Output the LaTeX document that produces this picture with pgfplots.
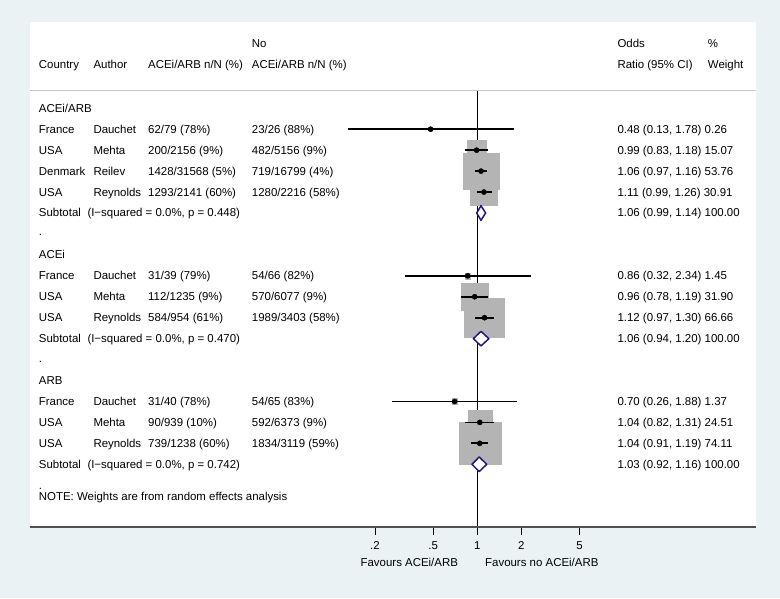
\documentclass[border=0pt]{standalone}
\usepackage{fontspec}
\setmainfont{Liberation Sans}
\usepackage{pgfplots}
\usepackage{pgfplotstable}
\pgfplotsset{compat=1.18}

\definecolor{bgcol}{RGB}{234,242,243}
\definecolor{sqgray}{RGB}{180,180,180}
\definecolor{dmblue}{RGB}{26,26,128}
\definecolor{axgray}{RGB}{80,80,80}
\definecolor{sepgray}{RGB}{200,200,200}

\newcommand{\fs}{\fontsize{11.45bp}{13bp}\selectfont}

% one row per study: odds ratio, 95% CI, row height (bp from bottom), weight
\pgfplotstableread{
or   lo   hi   y      w
0.48 0.13 1.78 468.76 0.26
0.99 0.83 1.18 447.82 15.07
1.06 0.97 1.16 426.88 53.76
1.11 0.99 1.26 405.94 30.91
0.86 0.32 2.34 322.18 1.45
0.96 0.78 1.19 301.24 31.90
1.12 0.97 1.30 280.30 66.66
0.70 0.26 1.88 196.54 1.37
1.04 0.82 1.31 175.60 24.51
1.04 0.91 1.19 154.66 74.11
}\studies

% table row: y, country, author, exposed, unexposed, OR text
\newcommand{\trow}[6]{%
  \node[txt] at (axis cs:38.7,#1) {#2};
  \node[txt] at (axis cs:93.3,#1) {#3};
  \node[txt] at (axis cs:148,#1) {#4};
  \node[txt] at (axis cs:251.7,#1) {#5};
  \node[txt] at (axis cs:617.3,#1) {#6};}
\newcommand{\subrow}[3]{%
  \node[txt] at (axis cs:38.7,#1) {Subtotal};
  \node[txt] at (axis cs:87.3,#1) {#2};
  \node[txt] at (axis cs:617.3,#1) {#3};}

\begin{document}
\begin{tikzpicture}[txt/.style={font=\fs, inner sep=0pt, text height=8bp, text depth=0pt, anchor=west}]

% frame, text columns
\begin{axis}[name=A, scale only axis, width=780bp, height=598bp,
  xmin=0, xmax=780, ymin=0, ymax=598, hide axis, clip=false]
\fill[bgcol] (axis cs:0,0) rectangle (axis cs:780,598);
\fill[white] (axis cs:30,71) rectangle (axis cs:756,576);
\draw[sepgray, line width=1bp] (axis cs:30,507.3) -- (axis cs:756,507.3);

\node[txt] at (axis cs:251.7,554.7) {No};
\node[txt] at (axis cs:617.3,554.7) {Odds};
\node[txt] at (axis cs:707.7,554.7) {\%};
\trow{533}{Country}{Author}{ACEi/ARB n/N (\%)}{ACEi/ARB n/N (\%)}{Ratio (95\% CI)}
\node[txt] at (axis cs:707.7,533) {Weight};

\node[txt] at (axis cs:38.7,489.7) {ACEi/ARB};
\trow{468.76}{France}{Dauchet}{62/79 (78\%)}{23/26 (88\%)}{0.48 (0.13, 1.78) 0.26}
\trow{447.82}{USA}{Mehta}{200/2156 (9\%)}{482/5156 (9\%)}{0.99 (0.83, 1.18) 15.07}
\trow{426.88}{Denmark}{Reilev}{1428/31568 (5\%)}{719/16799 (4\%)}{1.06 (0.97, 1.16) 53.76}
\trow{405.94}{USA}{Reynolds}{1293/2141 (60\%)}{1280/2216 (58\%)}{1.11 (0.99, 1.26) 30.91}
\subrow{385.0}{(I−squared = 0.0\%, p = 0.448)}{1.06 (0.99, 1.14) 100.00}
\node[txt] at (axis cs:38.7,366) {.};

\node[txt] at (axis cs:38.7,343.12) {ACEi};
\trow{322.18}{France}{Dauchet}{31/39 (79\%)}{54/66 (82\%)}{0.86 (0.32, 2.34) 1.45}
\trow{301.24}{USA}{Mehta}{112/1235 (9\%)}{570/6077 (9\%)}{0.96 (0.78, 1.19) 31.90}
\trow{280.30}{USA}{Reynolds}{584/954 (61\%)}{1989/3403 (58\%)}{1.12 (0.97, 1.30) 66.66}
\subrow{259.36}{(I−squared = 0.0\%, p = 0.470)}{1.06 (0.94, 1.20) 100.00}
\node[txt] at (axis cs:38.7,240) {.};

\node[txt] at (axis cs:38.7,217.48) {ARB};
\trow{196.54}{France}{Dauchet}{31/40 (78\%)}{54/65 (83\%)}{0.70 (0.26, 1.88) 1.37}
\trow{175.60}{USA}{Mehta}{90/939 (10\%)}{592/6373 (9\%)}{1.04 (0.82, 1.31) 24.51}
\trow{154.66}{USA}{Reynolds}{739/1238 (60\%)}{1834/3119 (59\%)}{1.04 (0.91, 1.19) 74.11}
\subrow{133.72}{(I−squared = 0.0\%, p = 0.742)}{1.03 (0.92, 1.16) 100.00}
\node[txt] at (axis cs:38.7,113) {.};
\node[txt] at (axis cs:38.7,102) {NOTE: Weights are from random effects analysis};

\node[font=\fs, inner sep=0pt, text height=8bp, text depth=0pt] at (axis cs:409.3,36) {Favours ACEi/ARB};
\node[font=\fs, inner sep=0pt, text height=8bp, text depth=0pt] at (axis cs:541.8,36) {Favours no ACEi/ARB};
\end{axis}

% null line and weight boxes (underneath)
\begin{axis}[at={(30bp,71bp)}, anchor=south west, scale only axis,
  width=726bp, height=505bp,
  xmode=log, xmin=8.806e-4, xmax=80.12, ymin=71, ymax=576, clip=false,
  hide axis]
\addplot[black, line width=1.3bp] coordinates {(1,507.3) (1,71)};
\addplot[scatter, only marks, mark=square*,
  scatter/use mapped color={draw=sqgray, fill=sqgray},
  visualization depends on={2.45*sqrt(\thisrow{w}) \as \msz},
  scatter/@pre marker code/.append style={/tikz/mark size=\msz}]
  table[x=or, y=y] {\studies};
\end{axis}

% confidence intervals, estimates, pooled diamonds and the x axis
\begin{axis}[at={(30bp,71bp)}, anchor=south west, scale only axis,
  width=726bp, height=505bp,
  xmode=log, xmin=8.806e-4, xmax=80.12, ymin=71, ymax=576, clip=false,
  axis x line*=bottom, axis y line=none,
  x axis line style={axgray, line width=1.5bp},
  xtick={0.2,0.5,1,2,5}, xticklabels={.2,.5,1,2,5}, xminorticks=false,
  tick align=outside, major tick length=7.5bp,
  tick style={black, line width=0.8bp},
  x tick label style={font=\fs, yshift=-3.5bp},
  /pgf/number format/assume math mode=true]

\addplot[black, line width=1.7bp] coordinates {(0.13,468.76) (1.78,468.76)};
\addplot[black, line width=1.7bp] coordinates {(0.83,447.82) (1.18,447.82)};
\addplot[black, line width=1.7bp] coordinates {(0.97,426.88) (1.16,426.88)};
\addplot[black, line width=1.7bp] coordinates {(0.99,405.94) (1.26,405.94)};
\addplot[black, line width=1.7bp] coordinates {(0.32,322.18) (2.34,322.18)};
\addplot[black, line width=1.7bp] coordinates {(0.78,301.24) (1.19,301.24)};
\addplot[black, line width=1.7bp] coordinates {(0.97,280.30) (1.30,280.30)};
\addplot[black, line width=1.7bp] coordinates {(0.26,196.54) (1.88,196.54)};
\addplot[black, line width=1.7bp] coordinates {(0.82,175.60) (1.31,175.60)};
\addplot[black, line width=1.7bp] coordinates {(0.91,154.66) (1.19,154.66)};

\addplot[only marks, mark=*, mark size=2.6bp, black] table[x=or, y=y] {\studies};

% pooled estimates
\addplot[dmblue, fill=white, line width=1.5bp, line join=round]
  coordinates {(0.99,385.0) (1.06,392.3) (1.14,385.0) (1.06,377.7)} -- cycle;
\addplot[dmblue, fill=white, line width=1.5bp, line join=round]
  coordinates {(0.94,259.36) (1.06,266.66) (1.20,259.36) (1.06,252.06)} -- cycle;
\addplot[dmblue, fill=white, line width=1.5bp, line join=round]
  coordinates {(0.92,133.72) (1.03,141.02) (1.16,133.72) (1.03,126.42)} -- cycle;
\end{axis}
\end{tikzpicture}
\end{document}
